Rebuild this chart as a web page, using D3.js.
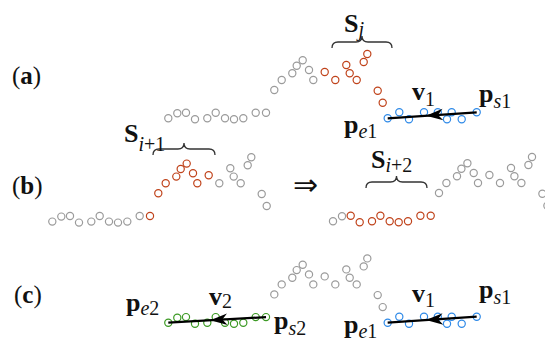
<!DOCTYPE html>
<html>
<head>
<meta charset="utf-8">
<script src="https://cdn.jsdelivr.net/npm/d3@7/dist/d3.min.js"></script>
<style>
  html, body { margin: 0; padding: 0; background: #fff; }
  svg { display: block; }
  text { font-family: "Liberation Serif", "Times New Roman", serif; fill: #111; }
</style>
</head>
<body>
<script>
// One trajectory: sample time and value of every point
const sampleTime = [0, 0.9, 1.77, 2.67, 3.9, 4.74, 5.67, 6.57, 7.5, 8.74, 9.77,
  10.6, 11.34, 12.4, 12.84, 13.44, 14.07, 14.5, 15.64, 16.7, 17.8, 18.14, 18.84,
  19.54, 19.9, 20.94, 21.44, 21.94, 23.1, 24.07, 25.57, 26.95, 27.87, 28.34, 29.34, 30.84];
const sampleValue = [0, 0.5, 0.56, -0.1, 0, 0.56, 0, -0.1, 0, 0.56, 0.56,
  2.83, 3.83, 4.5, 5.26, 5.8, 4.83, 3.83, 4.63, 3.83, 5.33, 4.5, 3.83,
  5.63, 6.43, 2.76, 1.56, 0, 0.6, -0.1, 0.6, 0.6, -0.1, 0.6, -0.1, 0.6];

// Segments of the trajectory (start index, end index inclusive)
const segSj = [18, 26];      // S_j
const segV1 = [27, 35];      // straight part fitted by v1
const segSi1 = [10, 18];     // S_{i+1}
const segSi2 = [2, 10];      // S_{i+2}
const segV2 = [0, 10];       // straight part fitted by v2

const W = 545, H = 341;
const COL = { gray: "#9b9b9b", red: "#c0431b", blue: "#2f8ae8", green: "#3c9a24" };

const svg = d3.select("body").append("svg").attr("width", W).attr("height", H);

const x = d3.scaleLinear().domain([0, 30.84]).range([168.3, 476.7]);
const y = d3.scaleLinear().domain([0, 6.43]).range([118.3, 54]);

const pts = sampleTime.map((t, i) => ({ i, t, v: sampleValue[i] }));
const inSeg = (i, s) => i >= s[0] && i <= s[1];

// Each copy of the trajectory: offset, points shown, colouring rule
const copies = [
  { dx: 0, dy: 0, last: 35, color: i => inSeg(i, segSj) ? COL.red : inSeg(i, segV1) ? COL.blue : COL.gray },
  { dx: -116, dy: 103.3, last: 26, color: i => inSeg(i, segSi1) ? COL.red : COL.gray },
  { dx: 164.7, dy: 103, last: 30, color: i => inSeg(i, segSi2) ? COL.red : COL.gray },
  { dx: 0, dy: 204.4, last: 35, color: i => inSeg(i, segV2) ? COL.green : inSeg(i, segV1) ? COL.blue : COL.gray }
];

copies.forEach(c => {
  const g = svg.append("g").attr("transform", `translate(${c.dx},${c.dy})`);
  g.selectAll("circle").data(pts.filter(p => p.i <= c.last)).join("circle")
    .attr("cx", d => x(d.t)).attr("cy", d => y(d.v)).attr("r", 3.6)
    .attr("fill", "none").attr("stroke", d => c.color(d.i)).attr("stroke-width", 1.2);
});

// Arrow from the segment start point to its end point, head part-way along
function arrow(seg, dy) {
  const s = pts[seg[1]], e = pts[seg[0]];
  const x0 = x(s.t), y0 = y(s.v) + dy, x1 = x(e.t), y1 = y(e.v) + dy;
  svg.append("line").attr("x1", x0).attr("y1", y0).attr("x2", x1).attr("y2", y1)
    .attr("stroke", "#000").attr("stroke-width", 2.2);
  const f = 0.57, tx = x0 + f * (x1 - x0), ty = y0 + f * (y1 - y0);
  const a = Math.atan2(y1 - y0, x1 - x0);
  const L = 17, Wd = 5.8, N = 12;
  const ux = Math.cos(a), uy = Math.sin(a), nx = -uy, ny = ux;
  const p = [
    [tx, ty],
    [tx - L * ux + Wd * nx, ty - L * uy + Wd * ny],
    [tx - N * ux, ty - N * uy],
    [tx - L * ux - Wd * nx, ty - L * uy - Wd * ny]
  ];
  svg.append("path").attr("d", "M" + p.map(q => q.join(",")).join("L") + "Z").attr("fill", "#000");
}
arrow(segV1, 0);
arrow(segV1, 204.4);
arrow(segV2, 204.4);

// Curly braces over segments
function brace(x0, x1, yb) {
  const xm = (x0 + x1) / 2, yc = yb - 6, yt = yb - 12, r = 6;
  const d = `M${x0},${yb} Q${x0},${yc} ${x0 + r},${yc} L${xm - r},${yc} Q${xm},${yc} ${xm},${yt}` +
            ` Q${xm},${yc} ${xm + r},${yc} L${x1 - r},${yc} Q${x1},${yc} ${x1},${yb}`;
  svg.append("path").attr("d", d).attr("fill", "none").attr("stroke", "#333").attr("stroke-width", 1.3);
}
brace(332, 392, 48);
brace(153, 215, 155);
brace(366, 427, 188);

// Symbol with a subscript; sub parts are [text, italic]
function sym(xp, yb, main, sub, subDy, size = 26, subSize = 20) {
  const t = svg.append("text").attr("x", xp).attr("y", yb).attr("font-size", size);
  t.append("tspan").attr("font-weight", "bold").text(main);
  let first = true;
  sub.forEach(([s, it]) => {
    const ts = t.append("tspan").attr("font-size", subSize)
      .attr("font-style", it ? "italic" : "normal").text(s);
    if (first) { ts.attr("dy", subDy); first = false; }
  });
}
function panelLabel(xp, yb, letter) {
  const t = svg.append("text").attr("x", xp).attr("y", yb).attr("font-size", 25);
  t.append("tspan").text("(");
  t.append("tspan").attr("font-weight", "bold").text(letter);
  t.append("tspan").text(")");
}

panelLabel(12, 84, "a");
panelLabel(12, 194, "b");
panelLabel(14, 303, "c");

sym(344, 32, "S", [["j", true]], 4);
sym(412, 100, "v", [["1", false]], 6);
sym(479, 102, "p", [["s", true], ["1", false]], 6);
sym(344, 133, "p", [["e", true], ["1", false]], 5);

sym(124, 142, "S", [["i", true], ["+1", false]], 9);
sym(371, 168, "S", [["i", true], ["+2", false]], 4);
svg.append("text").attr("x", 293).attr("y", 195).attr("font-size", 30).text("\u21D2");

sym(126, 311, "p", [["e", true], ["2", false]], 4);
sym(209, 305, "v", [["2", false]], 3);
sym(274, 329, "p", [["s", true], ["2", false]], 6);
sym(412, 302, "v", [["1", false]], 5);
sym(479, 298, "p", [["s", true], ["1", false]], 6);
sym(344, 333, "p", [["e", true], ["1", false]], 5);
</script>
</body>
</html>
